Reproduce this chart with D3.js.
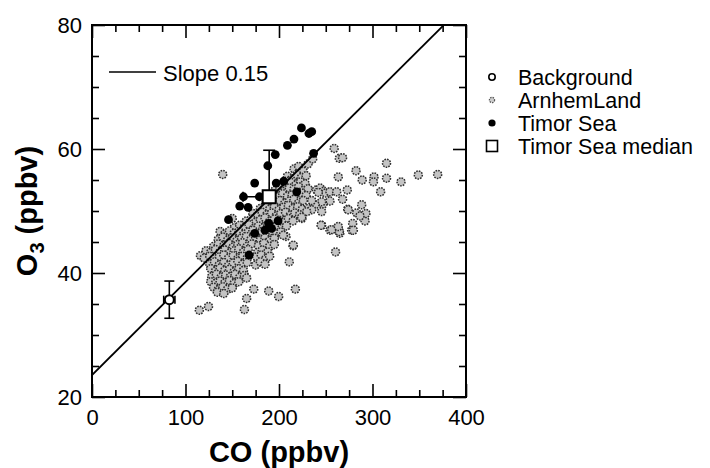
<!DOCTYPE html>
<html>
<head>
<meta charset="utf-8">
<script src="https://cdn.jsdelivr.net/npm/d3@7"></script>
<style>
  body { margin: 0; background: #fff; }
  text { font-family: "Liberation Sans", Arial, sans-serif; fill: #000; }
</style>
</head>
<body>
<script>
// fitted line O3 = intercept + slope * CO
const slope = 0.15;
const intercept = 23.55;

const xTicks = [0, 100, 200, 300, 400];
const yTicks = [20, 40, 60, 80];

// background air: point, CO error, O3 range
const background = [[82.7, 35.7]];
const backgroundCoErr = [76.7, 88.7];
const backgroundO3Err = [32.7, 38.7];

// Timor Sea median with error bars
const median = [[189.5, 52.3]];
const medianCoErr = [161.5, 218];
const medianO3Err = [45, 59.8];

const timorSea = [
  [224, 63.4], [232, 62.5], [235, 62.8], [216, 61.6], [209, 60.6], [196, 59.1],
  [188, 57.3], [237, 59.3], [174, 54.5], [197, 54.5], [205, 54.8], [162, 52.3],
  [179, 52.3], [158, 50.8], [167, 50.6], [219, 53.1], [146, 48.6], [189, 48.0],
  [199, 48.4], [192, 47.2], [174, 46.4], [168, 42.9], [185, 46.9]
];

const arnhemLand = [
  // dense cluster
  [216, 56.8], [221, 57.2], [226, 56.4],
  [209, 55.6], [214, 55.2], [219, 55.9], [224, 55.4], [229, 55.7],
  [203, 54.3], [208, 54.8], [213, 54.6], [218, 54.2], [223, 54.7], [228, 54.4],
  [196, 53.4], [201, 53.8], [206, 53.2], [211, 53.7], [216, 53.5], [221, 53.9], [226, 53.3], [231, 53.6],
  [194, 52.7], [199, 52.3], [204, 52.8], [209, 52.4], [214, 52.6], [219, 52.2], [224, 52.9], [229, 52.5],
  [186, 51.3], [191, 51.8], [196, 51.4], [201, 51.7], [206, 51.2], [211, 51.6], [216, 51.9], [221, 51.3], [226, 51.7],
  [180, 50.4], [185, 50.8], [190, 50.3], [195, 50.7], [200, 50.2], [205, 50.6], [210, 50.9], [215, 50.4], [220, 50.7], [225, 50.3],
  [172, 49.6], [177, 49.3], [182, 49.8], [187, 49.4], [192, 49.7], [197, 49.2], [202, 49.6], [207, 49.8], [212, 49.3], [217, 49.7], [222, 49.4],
  [150, 48.8], [165, 48.4], [170, 48.7], [175, 48.2], [180, 48.6], [185, 48.9], [190, 48.3], [195, 48.7], [200, 48.5], [205, 48.2], [210, 48.8], [215, 48.4],
  [152, 47.3], [158, 47.7], [163, 47.4], [168, 47.8], [173, 47.2], [178, 47.6], [183, 47.3], [188, 47.8], [193, 47.4], [198, 47.7], [203, 47.2], [208, 47.6],
  [137, 46.7], [142, 46.3], [147, 46.8], [152, 46.4], [157, 46.7], [162, 46.2], [167, 46.6], [172, 46.9], [177, 46.3], [182, 46.7], [187, 46.4], [192, 46.8], [197, 46.3], [202, 46.6],
  [135, 45.4], [140, 45.8], [145, 45.3], [150, 45.7], [155, 45.2], [160, 45.6], [165, 45.9], [170, 45.4], [175, 45.8], [180, 45.3], [185, 45.7], [190, 45.2], [195, 45.6],
  [130, 44.3], [135, 44.7], [141, 44.4], [146, 44.8], [151, 44.2], [156, 44.6], [161, 44.9], [166, 44.3], [171, 44.7], [178, 44.4], [184, 44.8], [190, 44.3], [195, 44.6],
  [122, 43.6], [127, 43.3], [132, 43.8], [137, 43.4], [142, 43.7], [147, 43.2], [152, 43.6], [157, 43.9], [162, 43.4], [167, 43.8], [177, 43.3], [182, 43.7], [188, 43.4],
  [116, 42.8], [120, 42.4], [126, 42.7], [131, 42.3], [136, 42.6], [141, 42.9], [146, 42.4], [151, 42.8], [156, 42.3], [161, 42.7], [166, 42.4], [176, 42.6], [181, 42.9], [186, 42.3], [190, 42.7],
  [126, 41.4], [131, 41.8], [136, 41.3], [141, 41.7], [146, 41.2], [151, 41.6], [156, 41.9], [161, 41.4], [166, 41.7], [175, 41.3], [180, 41.8], [185, 41.4],
  [127, 40.7], [132, 40.3], [137, 40.8], [142, 40.4], [147, 40.6], [152, 40.2], [157, 40.7], [162, 40.4],
  [128, 39.4], [133, 39.8], [138, 39.3], [143, 39.7], [148, 39.4], [153, 39.8], [158, 39.3], [163, 39.6],
  [127, 38.6], [132, 38.3], [137, 38.7], [142, 38.4], [147, 38.8], [152, 38.3], [157, 38.6],
  [130, 37.7], [135, 37.3], [140, 37.8], [145, 37.4], [150, 37.6],
  [134, 36.9], [141, 36.7],
  // scattered points
  [139.8, 55.9], [114.8, 34.0], [124.6, 34.6], [163, 34.1], [165.4, 35.9], [173, 37.4],
  [189, 37.1], [199.6, 36.2], [217.5, 37.4], [165.4, 39.2], [211, 41.8], [215, 44.4],
  [207.5, 45.9], [204.6, 46.1], [224.5, 48.8], [260.5, 43.4], [245.6, 47.7], [254.5, 46.9],
  [263.4, 46.9], [265, 46.4], [277.7, 46.9], [278.8, 48.0], [279.5, 46.9], [261.7, 47.1],
  [264.5, 46.7], [256.4, 47.0], [263.4, 47.5], [273.5, 50.3], [283, 49.7], [292, 48.4],
  [293, 49.6], [286.6, 49.2], [288.4, 51.0], [268, 51.9], [254.5, 51.6], [247, 51.1],
  [245.6, 51.5], [238.5, 51.0], [235, 51.7], [231.3, 50.4], [235, 50.2], [229.6, 49.9],
  [245.6, 49.9], [274, 50.2], [245, 47.7], [224.3, 49.0], [215.3, 44.5], [240, 53.4],
  [244, 53.7], [248, 53.2], [250, 52.9], [242, 53.0], [254.5, 53.1], [261.7, 53.1],
  [273, 53.4], [308.7, 53.1], [263.4, 55.5], [259, 60.1], [264.5, 58.5], [268, 58.6],
  [231, 57.6], [236, 58.4], [282.4, 56.5], [289, 55], [301.6, 55.5], [301, 54.7],
  [315, 55.3], [315, 57.7], [330.5, 54.7], [349, 55.8], [369.7, 55.9]
];

const legendLabels = ["Background", "ArnhemLand", "Timor Sea", "Timor Sea median"];

const width = 710, height = 468;
const margin = { left: 92, right: 244, top: 25, bottom: 71 };

const svg = d3.select("body").append("svg")
    .attr("width", width)
    .attr("height", height);

const x = d3.scaleLinear().domain([0, 400]).range([margin.left, width - margin.right]);
const y = d3.scaleLinear().domain([20, 80]).range([height - margin.bottom, margin.top]);

const plotW = x(400) - x(0), plotH = y(20) - y(80);

svg.append("defs").append("clipPath").attr("id", "clip")
  .append("rect").attr("x", x(0)).attr("y", y(80)).attr("width", plotW).attr("height", plotH);

// ticks, all pointing inward
const minorX = d3.range(0, 401, 25).filter(v => v % 100 !== 0);
const minorY = d3.range(20, 81, 5).filter(v => v % 20 !== 0);

function tickStyle(g) {
  g.select(".domain").remove();
  g.selectAll(".tick line").attr("stroke", "#000").attr("stroke-width", 1.6);
}

svg.append("g").attr("transform", `translate(0,${y(20)})`)
  .call(d3.axisBottom(x).tickValues(xTicks).tickSize(-13).tickPadding(12))
  .call(tickStyle)
  .selectAll("text").attr("font-size", 22).attr("font-family", "Liberation Sans, Arial, sans-serif");
svg.append("g").attr("transform", `translate(0,${y(20)})`)
  .call(d3.axisBottom(x).tickValues(minorX).tickSize(-7).tickFormat(""))
  .call(tickStyle);
svg.append("g").attr("transform", `translate(0,${y(80)})`)
  .call(d3.axisTop(x).tickValues(xTicks).tickSize(-13).tickFormat(""))
  .call(tickStyle);
svg.append("g").attr("transform", `translate(0,${y(80)})`)
  .call(d3.axisTop(x).tickValues(minorX).tickSize(-7).tickFormat(""))
  .call(tickStyle);

svg.append("g").attr("transform", `translate(${x(0)},0)`)
  .call(d3.axisLeft(y).tickValues(yTicks).tickSize(-13).tickPadding(10))
  .call(tickStyle)
  .selectAll("text").attr("font-size", 22).attr("font-family", "Liberation Sans, Arial, sans-serif");
svg.append("g").attr("transform", `translate(${x(0)},0)`)
  .call(d3.axisLeft(y).tickValues(minorY).tickSize(-7).tickFormat(""))
  .call(tickStyle);
svg.append("g").attr("transform", `translate(${x(400)},0)`)
  .call(d3.axisRight(y).tickValues(yTicks).tickSize(-13).tickFormat(""))
  .call(tickStyle);
svg.append("g").attr("transform", `translate(${x(400)},0)`)
  .call(d3.axisRight(y).tickValues(minorY).tickSize(-7).tickFormat(""))
  .call(tickStyle);

// frame
svg.append("rect")
    .attr("x", x(0)).attr("y", y(80))
    .attr("width", plotW).attr("height", plotH)
    .attr("fill", "none").attr("stroke", "#000").attr("stroke-width", 2);

const plot = svg.append("g").attr("clip-path", "url(#clip)");

// median error bars (drawn below the scatter)
const ebar = plot.append("g").attr("stroke", "#000").attr("stroke-width", 1.6).attr("fill", "none");
ebar.append("line")
    .attr("x1", x(median[0][0])).attr("x2", x(median[0][0]))
    .attr("y1", y(medianO3Err[0])).attr("y2", y(medianO3Err[1]));
ebar.append("line")
    .attr("x1", x(median[0][0]) - 6).attr("x2", x(median[0][0]) + 6)
    .attr("y1", y(medianO3Err[1])).attr("y2", y(medianO3Err[1]));
ebar.append("line")
    .attr("x1", x(medianCoErr[0])).attr("x2", x(medianCoErr[1]))
    .attr("y1", y(median[0][1])).attr("y2", y(median[0][1]));
ebar.append("line")
    .attr("x1", x(medianCoErr[0])).attr("x2", x(medianCoErr[0]))
    .attr("y1", y(median[0][1]) - 5).attr("y2", y(median[0][1]) + 5);

// ArnhemLand
plot.append("g").selectAll("circle")
  .data(arnhemLand)
  .join("circle")
    .attr("cx", d => x(d[0]))
    .attr("cy", d => y(d[1]))
    .attr("r", 4)
    .attr("fill", "#c4c4c4")
    .attr("stroke", "#2e2e2e")
    .attr("stroke-width", 1.5)
    .attr("stroke-dasharray", "1.6 1.1");

// slope line
plot.append("line")
    .attr("x1", x(0)).attr("y1", y(intercept))
    .attr("x2", x(400)).attr("y2", y(intercept + slope * 400))
    .attr("stroke", "#000").attr("stroke-width", 1.8);

// Timor Sea
plot.append("g").selectAll("circle")
  .data(timorSea)
  .join("circle")
    .attr("cx", d => x(d[0]))
    .attr("cy", d => y(d[1]))
    .attr("r", 4.4)
    .attr("fill", "#000");

// median square
plot.selectAll("rect.median")
  .data(median)
  .join("rect")
    .attr("class", "median")
    .attr("x", d => x(d[0]) - 6.5)
    .attr("y", d => y(d[1]) - 6.5)
    .attr("width", 13).attr("height", 13)
    .attr("fill", "#fff").attr("stroke", "#000").attr("stroke-width", 2);

// background with error bars
const bg = plot.append("g").attr("stroke", "#000").attr("stroke-width", 1.6);
bg.append("line")
    .attr("x1", x(background[0][0])).attr("x2", x(background[0][0]))
    .attr("y1", y(backgroundO3Err[0])).attr("y2", y(backgroundO3Err[1]));
backgroundO3Err.forEach(v => {
  bg.append("line")
    .attr("x1", x(background[0][0]) - 5).attr("x2", x(background[0][0]) + 5)
    .attr("y1", y(v)).attr("y2", y(v));
});
bg.append("line")
    .attr("x1", x(backgroundCoErr[0])).attr("x2", x(backgroundCoErr[1]))
    .attr("y1", y(background[0][1])).attr("y2", y(background[0][1]));
backgroundCoErr.forEach(v => {
  bg.append("line")
    .attr("x1", x(v)).attr("x2", x(v))
    .attr("y1", y(background[0][1]) - 4).attr("y2", y(background[0][1]) + 4);
});
plot.selectAll("circle.bg")
  .data(background)
  .join("circle")
    .attr("class", "bg")
    .attr("cx", d => x(d[0]))
    .attr("cy", d => y(d[1]))
    .attr("r", 4.5)
    .attr("fill", "#fff").attr("stroke", "#000").attr("stroke-width", 2);

// slope legend
svg.append("line")
    .attr("x1", 109).attr("x2", 156).attr("y1", 72).attr("y2", 72)
    .attr("stroke", "#000").attr("stroke-width", 1.6);
svg.append("text")
    .attr("x", 163).attr("y", 81)
    .attr("font-size", 22)
    .text("Slope 0.15");

// axis titles
svg.append("text")
    .attr("x", (x(0) + x(400)) / 2).attr("y", 462)
    .attr("text-anchor", "middle")
    .attr("font-size", 29).attr("font-weight", "bold")
    .text("CO (ppbv)");

const yt = svg.append("text")
    .attr("transform", `translate(37,${(y(20) + y(80)) / 2}) rotate(-90)`)
    .attr("text-anchor", "middle")
    .attr("font-size", 29).attr("font-weight", "bold");
yt.append("tspan").text("O");
yt.append("tspan").attr("font-size", 20).attr("dy", 7).text("3");
yt.append("tspan").attr("dy", -7).text(" (ppbv)");

// series legend
const legX = 492, legTextX = 518;
const legRows = [77, 100, 123, 146];
const leg = svg.append("g");
leg.append("circle").attr("cx", legX).attr("cy", legRows[0]).attr("r", 3.2)
    .attr("fill", "#fff").attr("stroke", "#000").attr("stroke-width", 1.6);
leg.append("circle").attr("cx", legX).attr("cy", legRows[1]).attr("r", 2.6)
    .attr("fill", "#ccc").attr("stroke", "#555").attr("stroke-width", 1.2).attr("stroke-dasharray", "1.5 1");
leg.append("circle").attr("cx", legX).attr("cy", legRows[2]).attr("r", 3.6).attr("fill", "#000");
leg.append("rect").attr("x", legX - 5.5).attr("y", legRows[3] - 5.5).attr("width", 11).attr("height", 11)
    .attr("fill", "#fff").attr("stroke", "#000").attr("stroke-width", 1.6);
leg.selectAll("text")
  .data(legendLabels)
  .join("text")
    .attr("x", legTextX)
    .attr("y", (d, i) => legRows[i] + 7.5)
    .attr("font-size", 21.5)
    .text(d => d);
</script>
</body>
</html>
